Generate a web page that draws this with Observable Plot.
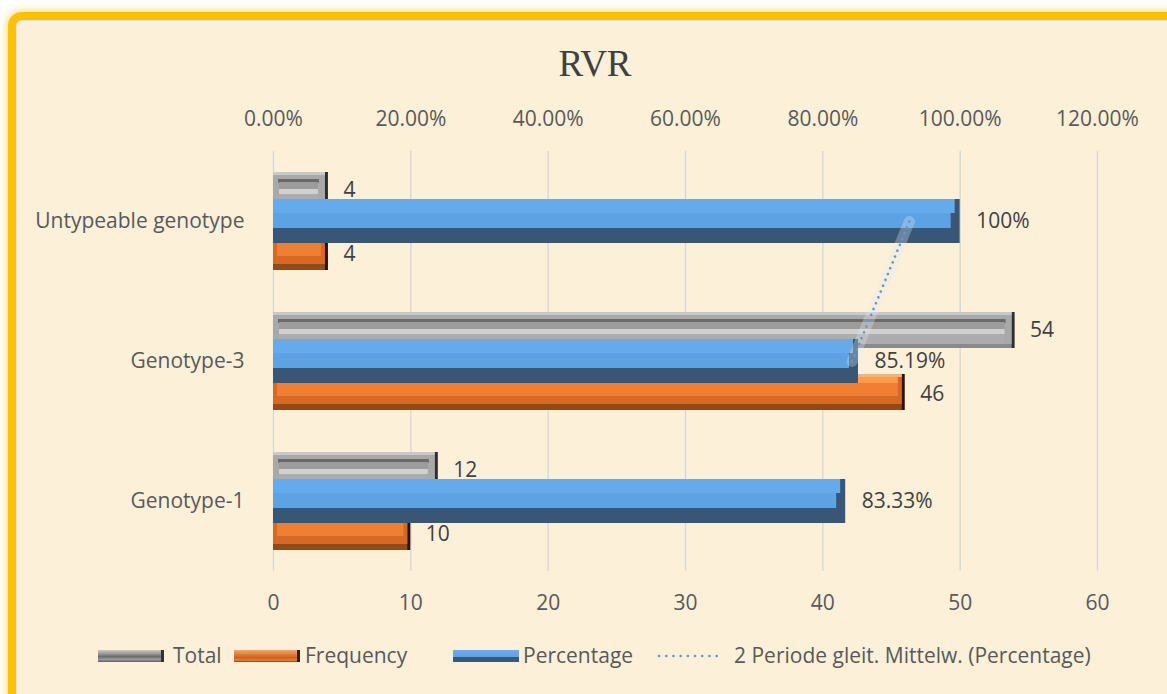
<!DOCTYPE html>
<html>
<head>
<meta charset="utf-8">
<script src="https://cdn.jsdelivr.net/npm/d3@7"></script>
<script src="https://cdn.jsdelivr.net/npm/@observablehq/plot@0.6"></script>
<style>
  html, body { margin: 0; padding: 0; width: 1167px; height: 694px; overflow: hidden; background: #ffffff; }
  #frame {
    position: absolute; left: 8px; top: 12px; width: 1180px; height: 700px;
    box-sizing: border-box; border: 8px solid #ffc000; border-radius: 14px;
    background: #fcf0d8;
    box-shadow: 0 0 6px 3px rgba(255, 200, 40, 0.45), inset 0 0 0 1px #dce3ea;
  }
  #title {
    position: absolute; left: 0; width: 1190px; top: 42px; text-align: center;
    font-family: "Liberation Serif", "DejaVu Serif", serif; font-size: 37px; color: #404040;
  }
  #chart { position: absolute; left: 0; top: 95px; }
  #legend {
    position: absolute; top: 641px; left: 98px; height: 28px;
    font-family: "Open Sans", sans-serif; font-size: 21px; color: #595959;
  }
  .item { position: absolute; top: 0; white-space: nowrap; }
  .sw { position: absolute; top: 9px; width: 66px; height: 12px; box-sizing: border-box; }
  .lab { position: absolute; top: 0; }
</style>
</head>
<body>
<div id="frame"></div>
<div id="title">RVR</div>
<div id="chart"></div>
<div id="legend"></div>
<script>
// ---- data ----
const categories = ["Untypeable genotype", "Genotype-3", "Genotype-1"];
const totalValues = [4, 54, 12];
const frequencyValues = [4, 46, 10];
const percentageValues = [100, 85.19, 83.33];          // percent
const movingAverageValues = [92.60, 84.26, null];      // 2-period moving average of Percentage
const bottomTicks = [0, 10, 20, 30, 40, 50, 60];
const topTickLabels = ["0.00%", "20.00%", "40.00%", "60.00%", "80.00%", "100.00%", "120.00%"];
const legendLabels = ["Total", "Frequency", "Percentage", "2 Periode gleit. Mittelw. (Percentage)"];

// secondary axis: 0..120% mapped onto primary 0..60
const pctToPrimary = p => p * 60 / 120;

const totalData = categories.map((c, i) => ({category: c, value: totalValues[i]}));
const freqData = categories.map((c, i) => ({category: c, value: frequencyValues[i]}));
const pctData = categories.map((c, i) => ({category: c, pct: percentageValues[i]}));
const maData = categories.map((c, i) => ({category: c, pct: movingAverageValues[i]})).filter(d => d.pct != null);

const pctLabel = v => (Number.isInteger(v) ? String(v) : v.toFixed(2)) + "%";

const BW = 98;            // band width in px
const BAR = 36;           // height of Total / Frequency bars
const GAP = BW - BAR;     // inset on the other side
const PI = 27;            // blue bar inset in the band

const font = "Open Sans, sans-serif";
const txt = "#595959";
const FS = 21;

// helpers for bevel layers (t = offset from bar top, b = offset from bar bottom)
const tot = (t, b, l, r, fill) => Plot.barX(totalData, {x: "value", y: "category", insetTop: t, insetBottom: GAP + b, insetLeft: l, insetRight: r, fill});
const frq = (t, b, l, r, fill) => Plot.barX(freqData, {x: "value", y: "category", insetTop: GAP + t, insetBottom: b, insetLeft: l, insetRight: r, fill});
const pct = (t, b, l, r, fill) => Plot.barX(pctData, {x: d => pctToPrimary(d.pct), y: "category", insetTop: PI + t, insetBottom: PI + b, insetLeft: l, insetRight: r, fill});

const chart = Plot.plot({
  width: 1167,
  height: 530,
  marginLeft: 273,
  marginRight: 70,
  marginTop: 56,
  marginBottom: 54,
  style: {background: "transparent", fontFamily: font, overflow: "visible"},
  x: {domain: [0, 60]},
  y: {domain: categories, paddingInner: 0.3, paddingOuter: 0.15, axis: null},
  marks: [
    Plot.gridX(bottomTicks, {stroke: "#d6d6d6", strokeOpacity: 1, strokeWidth: 1.3}),
    Plot.axisX({anchor: "bottom", ticks: bottomTicks, tickSize: 0, tickPadding: 24, fontSize: FS, color: txt, label: null, tickFormat: d => String(d)}),
    Plot.axisX({anchor: "top", ticks: bottomTicks, tickSize: 0, tickPadding: 26, fontSize: FS, color: txt, label: null, tickFormat: (d, i) => topTickLabels[i]}),
    Plot.axisY({anchor: "left", tickSize: 0, tickPadding: 29, fontSize: FS, color: txt, label: null}),

    // Total (grey, bevelled) - top of band
    tot(0, 0, 0, 0, "#2e2e2e"),
    tot(0, 0, 0, 3, "#8a8a8a"),
    tot(0, 4, 0, 3, "#a9a9a9"),
    tot(0, 33, 0, 3, "#c9c9c9"),
    tot(7, 25, 5, 9, "#6a6a6a"),
    tot(10, 4, 6, 10, "#9c9c9c"),
    tot(17, 14, 6, 10, "#d0d0d0"),
    tot(22, 4, 6, 10, "#acacac"),

    // Frequency (orange, bevelled) - bottom of band
    frq(0, 0, 0, 0, "#2a1204"),
    frq(0, 0, 0, 3, "#8f4b1a"),
    frq(0, 6, 0, 3, "#d66a24"),
    frq(3, 14, 4, 7, "#ee7f33"),
    frq(3, 27, 4, 7, "#fd9d4c"),
    frq(0, 33, 0, 3, "#f4b27c"),

    // Percentage (blue) - centred on the band
    pct(0, 0, 0, 0, "#385776"),
    pct(0, 15, 0, 9, "#5da3e4"),
    pct(0, 30, 0, 5, "#65aaea"),

    // moving average (soft glow + dotted)
    Plot.line(maData, {x: d => pctToPrimary(d.pct), y: "category", stroke: "#e6ebef", strokeOpacity: 0.3, strokeWidth: 11}),
    Plot.line(maData, {x: d => pctToPrimary(d.pct), y: "category", stroke: "#5b9bd5", strokeWidth: 2.6, strokeDasharray: "0.1 6.2", strokeLinecap: "round"}),

    // data labels
    Plot.text(totalData, {x: "value", y: "category", text: d => String(d.value), dx: 15, dy: -31, textAnchor: "start", fontSize: FS, fill: "#404040"}),
    Plot.text(freqData, {x: "value", y: "category", text: d => String(d.value), dx: 15, dy: 33, textAnchor: "start", fontSize: FS, fill: "#404040"}),
    Plot.text(pctData, {x: d => pctToPrimary(d.pct), y: "category", text: d => pctLabel(d.pct), dx: 16, dy: 0, textAnchor: "start", fontSize: FS, fill: "#404040"})
  ]
});
document.getElementById("chart").appendChild(chart);

// ---- legend ----
const legend = document.getElementById("legend");
const swatchStyles = [
  "background: linear-gradient(#c8c8c8 0%, #9a9a9a 30%, #6d6d6d 55%, #9a9a9a 80%, #5a5a5a 100%); border-right: 3px solid #333;",
  "background: linear-gradient(#f5a868 0%, #e07a30 40%, #c8601e 65%, #e5843c 85%, #8a4012 100%); border-right: 3px solid #3a1a05;",
  "background: linear-gradient(#6aaeed 0%, #5fa3e3 55%, #3a5878 56%, #3a5878 100%);"
];
const positions = [0, 136, 355, 559];
const labelOffsets = [75, 71, 70, 77];
legendLabels.forEach((lab, i) => {
  const it = document.createElement("div");
  it.className = "item";
  it.style.left = positions[i] + "px";
  if (i < 3) {
    const sw = document.createElement("div");
    sw.className = "sw";
    sw.setAttribute("style", swatchStyles[i]);
    it.appendChild(sw);
  } else {
    const svgNS = "http://www.w3.org/2000/svg";
    const s = document.createElementNS(svgNS, "svg");
    s.setAttribute("width", "70"); s.setAttribute("height", "28");
    s.style.position = "absolute"; s.style.left = "0px"; s.style.top = "0px";
    const l = document.createElementNS(svgNS, "line");
    l.setAttribute("x1", "2"); l.setAttribute("x2", "66"); l.setAttribute("y1", "15"); l.setAttribute("y2", "15");
    l.setAttribute("stroke", "#5b9bd5"); l.setAttribute("stroke-width", "2.6");
    l.setAttribute("stroke-dasharray", "0.1 7.1"); l.setAttribute("stroke-linecap", "round");
    s.appendChild(l);
    it.appendChild(s);
  }
  const t = document.createElement("div");
  t.className = "lab"; t.style.left = labelOffsets[i] + "px"; t.textContent = lab;
  it.appendChild(t);
  legend.appendChild(it);
});
</script>
</body>
</html>
